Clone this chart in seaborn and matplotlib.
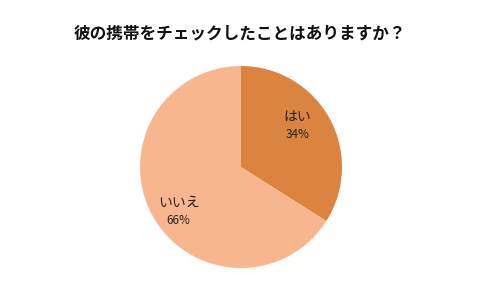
import matplotlib
matplotlib.use("Agg")
import matplotlib.pyplot as plt
import seaborn as sns

sns.set_theme(style="white")
plt.rcParams['font.family'] = ['Noto Sans CJK JP', 'DejaVu Sans']

title = "彼の携帯をチェックしたことはありますか？"
labels = ["はい", "いいえ"]
values = [34, 66]
colors = ["#DA843F", "#F8B68F"]

fig = plt.figure(figsize=(4.8, 3.0), dpi=100)
fig.patch.set_facecolor("white")
ax = fig.add_axes([140/480, 32/300, 202/480, 202/300])

wedges, texts, autotexts = ax.pie(
    values, colors=colors, startangle=90, counterclock=False,
    autopct=lambda p: "", pctdistance=0.74,
    wedgeprops=dict(linewidth=0),
)
offsets = [(-0.09, 0.05), (0.03, -0.085)]
for lab, val, at, (dx, dy) in zip(labels, values, autotexts, offsets):
    x, y = at.get_position()
    at.set_text("")
    ax.text(x + dx, y + dy + 0.085, lab, ha="center", va="center", fontsize=10, color="#222222")
    ax.text(x + dx, y + dy - 0.085, f"{val}%", ha="center", va="center", fontsize=8.5, color="#222222")
ax.set_xlim(-1, 1)
ax.set_ylim(-1, 1)
ax.set_aspect("equal")
ax.axis("off")

fig.text(0.5, 1 - 33/300, title, ha="center", va="center", fontsize=12,
         fontweight="bold", color="#111111")

fig.savefig("out.png", dpi=100, facecolor="white")
